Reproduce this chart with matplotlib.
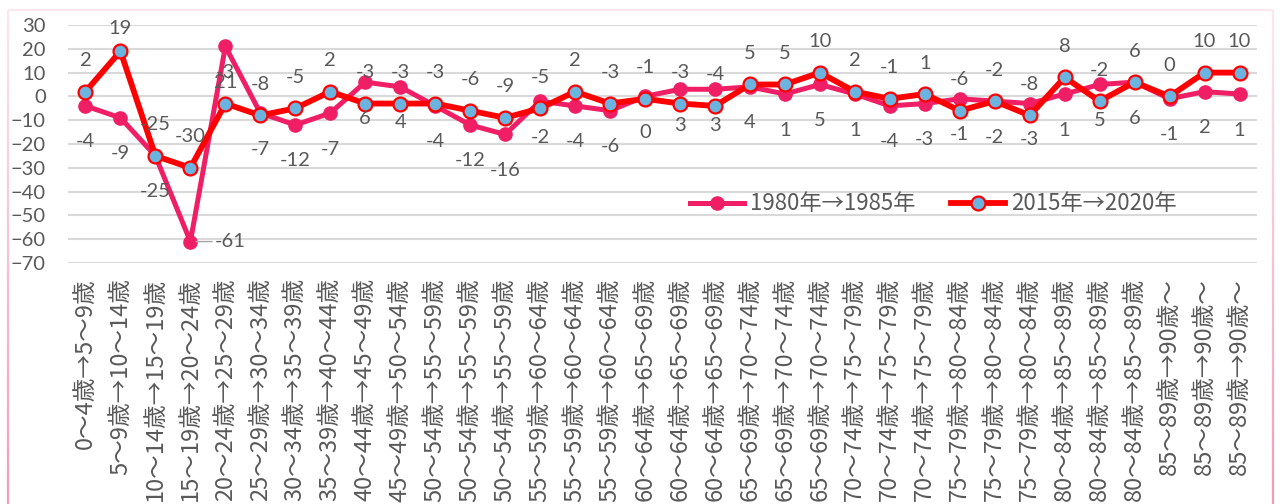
import matplotlib
matplotlib.use('Agg')
import matplotlib.pyplot as plt
from matplotlib.collections import LineCollection
import matplotlib.colors as mcolors
import numpy as np

# ---------------- data ----------------
categories = [
    "0～4歳→5～9歳", "5～9歳→10～14歳", "10～14歳→15～19歳", "15～19歳→20～24歳",
    "20～24歳→25～29歳", "25～29歳→30～34歳", "30～34歳→35～39歳", "35～39歳→40～44歳",
    "40～44歳→45～49歳", "45～49歳→50～54歳",
    "50～54歳→55～59歳", "50～54歳→55～59歳", "50～54歳→55～59歳",
    "55～59歳→60～64歳", "55～59歳→60～64歳", "55～59歳→60～64歳",
    "60～64歳→65～69歳", "60～64歳→65～69歳", "60～64歳→65～69歳",
    "65～69歳→70～74歳", "65～69歳→70～74歳", "65～69歳→70～74歳",
    "70～74歳→75～79歳", "70～74歳→75～79歳", "70～74歳→75～79歳",
    "75～79歳→80～84歳", "75～79歳→80～84歳", "75～79歳→80～84歳",
    "80～84歳→85～89歳", "80～84歳→85～89歳", "80～84歳→85～89歳",
    "85～89歳→90歳～", "85～89歳→90歳～", "85～89歳→90歳～",
]
series_1980 = [-4, -9, -25, -61, 21, -7, -12, -7, 6, 4, -4, -12, -16, -2, -4, -6, 0,
               3, 3, 4, 1, 5, 1, -4, -3, -1, -2, -3, 1, 5, 6, -1, 2, 1]
series_2015 = [2, 19, -25, -30, -3, -8, -5, 2, -3, -3, -3, -6, -9, -5, 2, -3, -1,
               -3, -4, 5, 5, 10, 2, -1, 1, -6, -2, -8, 8, -2, 6, 0, 10, 10]
label_1980 = "1980年→1985年"
label_2015 = "2015年→2020年"
yticks = list(range(-70, 31, 10))

# ---------------- style ----------------
plt.rcParams['font.family'] = ['Lato', 'Noto Sans CJK JP', 'DejaVu Sans']
CJK = ['Noto Sans CJK JP', 'DejaVu Sans']
TXT = '#595959'
PINK = '#F01E64'
RED = '#FF0000'
BLUE = '#6CB4E0'
FS = 14.5

W, H = 1280, 504
fig = plt.figure(figsize=(W / 100, H / 100), dpi=100)
fig.patch.set_facecolor('white')

# chart-area border with a pink gradient
def grad_line(x0, y0, x1, y1, c0, c1, n=120):
    xs = np.linspace(x0, x1, n + 1)
    ys = np.linspace(y0, y1, n + 1)
    segs = [[(xs[k] / W, 1 - ys[k] / H), (xs[k + 1] / W, 1 - ys[k + 1] / H)] for k in range(n)]
    a = np.array(mcolors.to_rgb(c0))
    b = np.array(mcolors.to_rgb(c1))
    cols = [tuple(a + (b - a) * (k / n)) for k in range(n)]
    lc = LineCollection(segs, colors=cols, linewidths=1.6, transform=fig.transFigure)
    fig.add_artist(lc)

grad_line(7.5, 10, 7.5, 504, '#FDE6EE', '#F49AB9')
grad_line(1273, 10, 1273, 504, '#FDE6EE', '#F49AB9')
grad_line(7.5, 10, 1273, 10, '#FDE6EE', '#FDE6EE', n=2)

left, right, top, bottom = 68, 1257, 25, 263
ax = fig.add_axes([left / W, 1 - bottom / H, (right - left) / W, (bottom - top) / H])
ax.set_facecolor('none')

x = np.arange(len(categories))
ax.plot(x, series_1980, color=PINK, lw=3.6, marker='o', ms=9.5, mfc=PINK, mec=PINK,
        label=label_1980, zorder=3, solid_joinstyle='round')
ax.plot(x, series_2015, color=RED, lw=4.2, marker='o', ms=10, mfc=BLUE, mec=RED, mew=1.6,
        label=label_2015, zorder=4, solid_joinstyle='round')

ax.set_xlim(-0.5, len(categories) - 0.5)
ax.set_ylim(-70, 30)
ax.set_yticks(yticks)
ax.grid(axis='y', color='#D9D9D9', lw=1.5)
ax.set_axisbelow(True)
for sp in ax.spines.values():
    sp.set_visible(False)
ax.tick_params(length=0, colors=TXT, labelsize=FS)
ax.set_xticks(x)
ax.set_xticklabels(categories, rotation=90, family=CJK, fontsize=17)
ax.tick_params(axis='x', pad=11)
ax.tick_params(axis='y', pad=16)

# data labels
for i, v in enumerate(series_2015):
    dy = 23 if i == 1 else 31
    ax.annotate(f'{v}', (i, v), xytext=(0, dy), textcoords='offset pixels',
                ha='center', va='center', fontsize=FS, color=TXT, zorder=6)
for i, v in enumerate(series_1980):
    if i == 3:
        ax.annotate(f'{v}', (i, v), xytext=(40, 0), textcoords='offset pixels',
                    ha='center', va='center', fontsize=FS, color=TXT, zorder=6,
                    arrowprops=dict(arrowstyle='-', color='#A6A6A6', lw=1,
                                    shrinkA=0, shrinkB=4))
    else:
        ax.annotate(f'{v}', (i, v), xytext=(0, -36), textcoords='offset pixels',
                    ha='center', va='center', fontsize=FS, color=TXT, zorder=6)

leg = ax.legend(loc='center left', bbox_to_anchor=(690 / W, 1 - 204 / H),
                bbox_transform=fig.transFigure, ncol=2, frameon=False,
                prop={'family': CJK, 'size': 16}, handlelength=2.45, handletextpad=0.25,
                columnspacing=1.6, borderpad=0, borderaxespad=0)
for t in leg.get_texts():
    t.set_color(TXT)

fig.savefig('out.png', dpi=100)
